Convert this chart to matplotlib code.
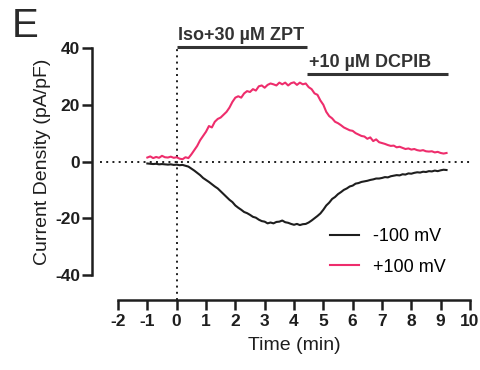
#Current density time course, -100 mV / +100 mV
import matplotlib
matplotlib.use('Agg')
import matplotlib.pyplot as plt
import numpy as np

plt.rcParams['font.family'] = ['Liberation Sans', 'DejaVu Sans']
plt.rcParams['axes.unicode_minus'] = False

#data-----------------------------------------------------
t0, dt, n = -1.0, 0.1, 103
time = np.round(t0 + dt*np.arange(n), 2)

pos100 = [1.4, 1.8, 1.2, 1.6, 1.3, 2.0, 1.5, 1.4, 1.7, 1.3,
          1.5, 1.0, 0.8, 1.5, 1.2, 2.5, 4.0, 5.5, 7.5, 9.0,
          10.5, 12.5, 12.0, 14.0, 15.0, 15.5, 16.5, 17.5, 19.0, 21.0,
          22.5, 23.0, 22.5, 24.0, 24.8, 24.5, 25.5, 25.0, 26.5, 26.8,
          26.0, 27.0, 27.5, 27.2, 26.8, 27.8, 27.2, 27.8, 26.8, 27.6,
          27.9, 27.0, 27.8, 27.2, 27.5, 26.2, 25.5, 24.0, 23.5, 21.5,
          20.0, 17.5, 16.0, 15.2, 14.0, 13.5, 12.8, 12.0, 11.5, 11.0,
          10.8, 10.0, 9.5, 9.0, 8.8, 8.0, 8.5, 7.2, 7.8, 6.8,
          6.5, 6.2, 5.8, 5.5, 5.6, 5.0, 5.2, 4.8, 4.4, 4.6,
          4.2, 4.4, 4.0, 3.8, 4.0, 3.6, 3.5, 3.6, 3.2, 3.4,
          3.0, 2.8, 3.0]

neg100 = [-0.7, -0.8, -0.9, -0.8, -1.0, -0.9, -1.0, -1.1, -1.0, -1.2,
          -1.1, -1.3, -1.2, -1.5, -1.8, -2.5, -3.2, -4.0, -4.8, -5.8,
          -6.5, -7.2, -8.0, -8.8, -9.5, -10.5, -11.5, -12.5, -13.5, -14.3,
          -15.5, -16.3, -17.0, -17.8, -18.2, -18.8, -19.5, -19.8, -20.5, -21.0,
          -21.2, -21.8, -21.5, -21.8, -21.3, -21.2, -20.8, -21.4, -21.6, -22.0,
          -22.3, -22.0, -22.4, -22.1, -22.0, -21.5, -20.8, -20.0, -19.2, -18.3,
          -17.0, -15.5, -14.5, -13.2, -12.5, -11.5, -10.8, -10.0, -9.5, -8.8,
          -8.5, -7.8, -7.6, -7.2, -7.0, -6.8, -6.5, -6.3, -6.0, -6.0,
          -5.8, -5.5, -5.6, -5.2, -5.0, -4.8, -4.9, -4.5, -4.6, -4.2,
          -4.3, -4.0, -3.8, -3.9, -3.6, -3.7, -3.4, -3.5, -3.2, -3.4,
          -3.1, -2.9, -3.0]

xticks = list(range(-2, 11))
yticks = [-40, -20, 0, 20, 40]
iso_bar = (0.0, 4.45, 40.3, 'Iso+30 µM ZPT')
dcpib_bar = (4.45, 9.25, 30.8, '+10 µM DCPIB')

pink = '#EE2D6C'
dark = '#1e1e1e'
gray = '#333333'

#plot-----------------------------------------------------
fig = plt.figure(figsize=(4.81, 3.70), dpi=100)
ax = fig.add_axes([118/481, 95/370, 352/481, 227/370])

ax.plot(time, neg100, color=dark, lw=1.5, label='-100 mV', zorder=3)
ax.plot(time, pos100, color=pink, lw=1.5, label='+100 mV', zorder=3)

ax.axhline(0, xmin=-0.051, xmax=1.0, color=dark, lw=1.4,
           linestyle=(0, (1, 2.2)), clip_on=False, zorder=1)
ax.axvline(0, ymin=-0.11, ymax=1.0, color=dark, lw=1.4,
           linestyle=(0, (1, 2.2)), clip_on=False, zorder=1)

for x1, x2, yb, txt in [iso_bar, dcpib_bar]:
    ax.plot([x1, x2], [yb, yb], color=gray, lw=2.2, clip_on=False,
            solid_capstyle='butt')
    ax.text(x1 + 0.05, yb + 2.6, txt, fontsize=13, fontweight='bold',
            color=gray, ha='left', va='baseline')

ax.set_xlim(-2, 10)
ax.set_ylim(-40, 40)
ax.set_xticks(xticks)
ax.set_yticks(yticks)

for s in ['top', 'right']:
    ax.spines[s].set_visible(False)
ax.spines['left'].set_position(('outward', 18.7))
ax.spines['bottom'].set_position(('outward', 18))
ax.spines['left'].set_bounds(-40, 40)
ax.spines['bottom'].set_bounds(-2, 10)
for s in ['left', 'bottom']:
    ax.spines[s].set_linewidth(1.8)
    ax.spines[s].set_color(dark)
    ax.spines[s].set_capstyle('projecting')

ax.tick_params(axis='both', length=7, width=1.8, color=dark,
               labelsize=12.5, labelcolor=dark)
ax.tick_params(axis='y', pad=1.5)
ax.tick_params(axis='x', pad=3)
for lab in ax.get_xticklabels() + ax.get_yticklabels():
    lab.set_fontweight('bold')

ax.set_xlabel('Time (min)', fontsize=14, color=dark, labelpad=6)
ax.set_ylabel('Current Density (pA/pF)', fontsize=14, color=dark, labelpad=3)

fig.text(12/481, 1 - 37/370, 'E', fontsize=29, color='#2a2a2a',
         ha='left', va='baseline')

ax.legend(loc='upper left', bbox_to_anchor=(330/481, 1 - 228/370),
          bbox_transform=fig.transFigure, frameon=False, fontsize=13,
          handlelength=1.6, handletextpad=0.8, labelspacing=0.75,
          borderpad=0, borderaxespad=0)

fig.savefig('out.png', dpi=100)
